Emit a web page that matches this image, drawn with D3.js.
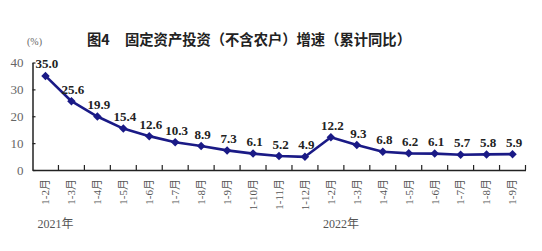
<!DOCTYPE html>
<html><head><meta charset="utf-8">
<script src="https://cdn.jsdelivr.net/npm/d3@7/dist/d3.min.js"></script>
<style>body{margin:0;background:#fff}svg{display:block}</style>
</head><body>
<svg id="c" width="542" height="251"></svg>
<script>
const categories = ["1-2月","1-3月","1-4月","1-5月","1-6月","1-7月","1-8月","1-9月","1-10月","1-11月","1-12月",
  "1-2月","1-3月","1-4月","1-5月","1-6月","1-7月","1-8月","1-9月"];
const values = [35.0,25.6,19.9,15.4,12.6,10.3,8.9,7.3,6.1,5.2,4.9,12.2,9.3,6.8,6.2,6.1,5.7,5.8,5.9];
const yTicks = [0,10,20,30,40];
const years = [{label:"2021年", index:0},{label:"2022年", index:11}];

const svg = d3.select("#c");
const serif = "'Liberation Serif','DejaVu Serif','Noto Sans CJK SC',serif";
const x = d3.scaleBand().domain(d3.range(categories.length)).range([32.5,525.5]);
const y = d3.scaleLinear().domain([0,40]).range([170,62.5]);
const cx = i => x(i) + x.bandwidth()/2;

// title
svg.append("text").attr("x",87).attr("y",45).attr("font-family","'Noto Sans CJK SC',sans-serif")
  .attr("font-weight","bold").attr("font-size","14.3px").attr("fill","#222").text("图4");
svg.append("text").attr("x",125).attr("y",45).attr("font-family","'Noto Sans CJK SC',sans-serif")
  .attr("font-weight","bold").attr("font-size","14.3px").attr("fill","#222").text("固定资产投资（不含农户）增速（累计同比）");
svg.append("text").attr("x",27).attr("y",45).attr("font-family",serif).attr("font-size","10px").attr("fill","#666").text("(%)");

// y axis
const ya = svg.append("g").attr("transform","translate(32.5,0)")
  .call(d3.axisLeft(y).tickValues(yTicks).tickSizeInner(-3).tickSizeOuter(0).tickPadding(9));
ya.select(".domain").attr("stroke","#222").attr("stroke-width",1.5);
ya.selectAll(".tick line").attr("stroke","#222").attr("stroke-width",1.2);
ya.selectAll("text").attr("font-family",serif).attr("font-size","13px").attr("fill","#666");

// x axis
const xa = svg.append("g").attr("transform","translate(0,170)")
  .call(d3.axisBottom(x).tickValues([]).tickSizeOuter(0));
xa.select(".domain").attr("stroke","#222").attr("stroke-width",1.5);
const edges = d3.range(1, categories.length+1).map(i => x.range()[0] + i*x.step());
svg.append("g").selectAll("line").data(edges).join("line")
  .attr("x1",d=>d).attr("x2",d=>d).attr("y1",170).attr("y2",165)
  .attr("stroke","#222").attr("stroke-width",1.2);

// x labels
svg.append("g").selectAll("text").data(categories).join("text")
  .attr("transform",(d,i)=>`translate(${cx(i)},179) rotate(-90)`)
  .attr("text-anchor","end").attr("dy","0.35em")
  .attr("font-family",serif).attr("font-size","11px").attr("fill","#555").text(d=>d);

// years
svg.append("g").selectAll("text").data(years).join("text")
  .attr("x",d=>cx(d.index)-8).attr("y",228)
  .attr("font-family",serif).attr("font-size","12px").attr("fill","#555").text(d=>d.label);

// line
const line = d3.line().x((d,i)=>cx(i)).y(d=>y(d));
svg.append("path").datum(values).attr("d",line).attr("fill","none")
  .attr("stroke","#1a1a86").attr("stroke-width",2.6).attr("stroke-linejoin","round");
svg.append("g").selectAll("path").data(values).join("path")
  .attr("d",d3.symbol(d3.symbolDiamond2,46)())
  .attr("transform",(d,i)=>`translate(${cx(i)},${y(d)})`).attr("fill","#1a1a86");

// value labels
svg.append("g").selectAll("text").data(values).join("text")
  .attr("x",(d,i)=>cx(i)+1.5).attr("y",d=>y(d)-7.5).attr("text-anchor","middle")
  .attr("font-family",serif).attr("font-weight","bold").attr("font-size","13px").attr("fill","#222")
  .text(d=>d.toFixed(1));
</script>
</body></html>
